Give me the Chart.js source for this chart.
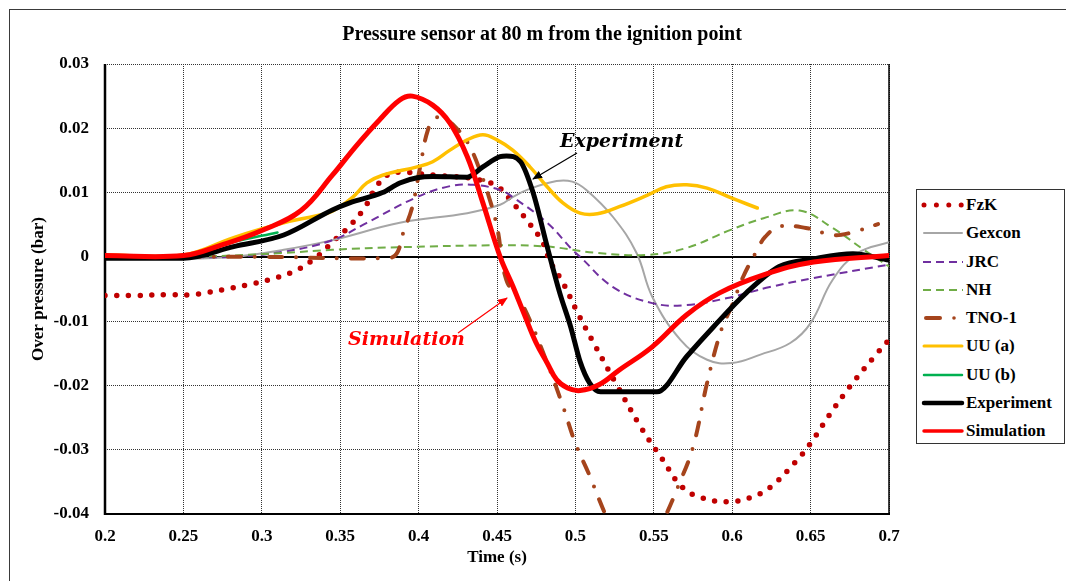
<!DOCTYPE html>
<html>
<head>
<meta charset="utf-8">
<script src="https://cdn.jsdelivr.net/npm/chart.js@4.4.1/dist/chart.umd.min.js"></script>
<style>
html,body{margin:0;padding:0;background:#fff;width:1066px;height:581px;overflow:hidden;}
#wrap{position:relative;width:1066px;height:581px;}
#chart{position:absolute;left:0;top:0;}
#frame{position:absolute;left:9px;top:9px;width:1100px;height:700px;border:1px solid #3a3a3a;box-sizing:border-box;}
#title{position:absolute;left:0;width:1084px;top:21px;text-align:center;font:bold 20px "Liberation Serif";line-height:24px;color:#000;}
#legend{position:absolute;left:916px;top:189px;width:149px;height:255px;border:1px solid #333;box-sizing:border-box;background:#fff;}
.row{position:absolute;left:0;height:20px;width:148px;}
.row svg{position:absolute;left:3px;top:0;}
.row span{position:absolute;left:49px;top:0;font:bold 17px "Liberation Serif";line-height:20px;color:#000;white-space:nowrap;}
.ann{position:absolute;font:italic bold 19px "DejaVu Serif";line-height:24px;white-space:nowrap;}
#arrows{position:absolute;left:0;top:0;pointer-events:none;}
</style>
</head>
<body>
<div id="wrap">
  <div id="frame"></div>
  <canvas id="chart" width="1066" height="581"></canvas>
  <div id="title">Pressure sensor at 80 m from the ignition point</div>
  <div id="legend"></div>
  <div class="ann" style="left:560px;top:128px;color:#000;">Experiment</div>
  <div class="ann" style="left:348px;top:326px;color:#ff0000;">Simulation</div>
  <svg id="arrows" width="1066" height="581">
    <defs>
      <marker id="ahB" markerWidth="10" markerHeight="8" refX="9" refY="4" orient="auto" markerUnits="userSpaceOnUse">
        <path d="M0,0 L10,4 L0,8 z" fill="#000"/>
      </marker>
      <marker id="ahR" markerWidth="10" markerHeight="8" refX="9" refY="4" orient="auto" markerUnits="userSpaceOnUse">
        <path d="M0,0 L10,4 L0,8 z" fill="#ff0000"/>
      </marker>
    </defs>
    <line x1="577" y1="153" x2="533" y2="179" stroke="#000" stroke-width="1.2" marker-end="url(#ahB)"/>
    <line x1="458" y1="333" x2="507" y2="298" stroke="#ff0000" stroke-width="1.2" marker-end="url(#ahR)"/>
  </svg>
</div>
<script>
// ---------- data ----------
const seriesNames = ["FzK", "Gexcon", "JRC", "NH", "TNO-1", "UU (a)", "UU (b)", "Experiment", "Simulation"];

const xTickValues = [0.2, 0.25, 0.3, 0.35, 0.4, 0.45, 0.5, 0.55, 0.6, 0.65, 0.7];
const xTickLabels = ["0.2", "0.25", "0.3", "0.35", "0.4", "0.45", "0.5", "0.55", "0.6", "0.65", "0.7"];
const yTickValues = [-0.04, -0.03, -0.02, -0.01, 0, 0.01, 0.02, 0.03];
const yTickLabels = ["-0.04", "-0.03", "-0.02", "-0.01", "0", "0.01", "0.02", "0.03"];

const fzkT = [0.2, 0.22, 0.24, 0.255, 0.264, 0.278, 0.294, 0.307, 0.322, 0.335, 0.345, 0.356, 0.366, 0.373, 0.38, 0.388, 0.398, 0.41, 0.422, 0.436, 0.45, 0.46, 0.47, 0.479, 0.484, 0.492, 0.502, 0.513, 0.527, 0.542, 0.555, 0.568, 0.581, 0.597, 0.611, 0.624, 0.64, 0.65, 0.662, 0.675, 0.69, 0.7];
const fzkP = [-0.006, -0.006, -0.0059, -0.0059, -0.0056, -0.005, -0.0042, -0.0034, -0.0021, 0, 0.0023, 0.0048, 0.0078, 0.0109, 0.0127, 0.0132, 0.013, 0.0127, 0.0125, 0.0121, 0.011, 0.0084, 0.0054, 0.0023, -0.0008, -0.004, -0.009, -0.014, -0.0202, -0.0266, -0.0313, -0.0358, -0.0375, -0.0381, -0.0375, -0.0359, -0.032, -0.029, -0.0246, -0.0202, -0.0157, -0.0129];

const gexT = [0.2, 0.25, 0.282, 0.314, 0.345, 0.388, 0.431, 0.452, 0.46, 0.47, 0.488, 0.498, 0.507, 0.524, 0.539, 0.549, 0.567, 0.584, 0.6, 0.618, 0.637, 0.65, 0.664, 0.68, 0.7];
const gexP = [-0.0002, -0.0003, 0, 0.0011, 0.0026, 0.0053, 0.0068, 0.0081, 0.0093, 0.0105, 0.0118, 0.0117, 0.0104, 0.0062, 0.0006, -0.0062, -0.0129, -0.016, -0.0165, -0.0152, -0.0134, -0.0103, -0.0036, 0.0006, 0.0023];

const jrcT = [0.2, 0.25, 0.282, 0.314, 0.345, 0.367, 0.399, 0.42, 0.435, 0.452, 0.46, 0.482, 0.498, 0.503, 0.524, 0.549, 0.571, 0.597, 0.624, 0.652, 0.7];
const jrcP = [0, 0, 0, 0.0008, 0.0026, 0.0053, 0.0093, 0.011, 0.0112, 0.0104, 0.0093, 0.0053, 0.0011, 0, -0.0047, -0.0072, -0.0075, -0.0064, -0.0047, -0.0033, -0.0012];

const nhT = [0.2, 0.25, 0.28, 0.314, 0.345, 0.388, 0.452, 0.482, 0.514, 0.546, 0.571, 0.599, 0.62, 0.643, 0.664, 0.684, 0.7];
const nhP = [0, 0, 0.0002, 0.0006, 0.0011, 0.0015, 0.0018, 0.0016, 0.0006, 0.0003, 0.0014, 0.0042, 0.006, 0.0072, 0.0045, 0.0011, -0.0015];

const tnoT = [0.2, 0.3, 0.38, 0.386, 0.39, 0.396, 0.401, 0.406, 0.411, 0.416, 0.425, 0.431, 0.435, 0.439, 0.444, 0.45, 0.456, 0.467, 0.482, 0.492, 0.5, 0.509, 0.519, 0.538, 0.558, 0.565, 0.575, 0.584, 0.593, 0.6, 0.607, 0.616, 0.621, 0.63, 0.647, 0.664, 0.675, 0.693];
const tnoP = [0, 0, -0.0002, 0.0005, 0.0036, 0.0078, 0.014, 0.0198, 0.0216, 0.0216, 0.0198, 0.0179, 0.016, 0.0135, 0.01, 0.0047, -0.0036, -0.0078, -0.0165, -0.0232, -0.029, -0.034, -0.04, -0.05, -0.04, -0.036, -0.0296, -0.0196, -0.0114, -0.0075, -0.0031, 0.0011, 0.0031, 0.0047, 0.0045, 0.0034, 0.0037, 0.0051];

const uuaT = [0.2, 0.25, 0.282, 0.314, 0.335, 0.345, 0.358, 0.367, 0.377, 0.399, 0.409, 0.42, 0.431, 0.441, 0.45, 0.46, 0.471, 0.482, 0.492, 0.503, 0.514, 0.528, 0.546, 0.558, 0.571, 0.584, 0.599, 0.616];
const uuaP = [0.0003, 0.0003, 0.003, 0.0053, 0.0064, 0.0071, 0.0093, 0.0115, 0.0127, 0.014, 0.0148, 0.0166, 0.0182, 0.019, 0.0182, 0.0166, 0.014, 0.0109, 0.0084, 0.0068, 0.0067, 0.0078, 0.0096, 0.0109, 0.0112, 0.0107, 0.0092, 0.0076];

const uubT = [0.2, 0.25, 0.282, 0.31];
const uubP = [0.0001, 0.0001, 0.0023, 0.0038];

const expT = [0.2, 0.25, 0.282, 0.314, 0.345, 0.356, 0.377, 0.388, 0.399, 0.409, 0.431, 0.441, 0.452, 0.456, 0.465, 0.473, 0.482, 0.49, 0.497, 0.503, 0.509, 0.516, 0.535, 0.552, 0.571, 0.588, 0.609, 0.63, 0.652, 0.677, 0.7];
const expP = [-0.0002, -0.0002, 0.0016, 0.0034, 0.0073, 0.0084, 0.01, 0.0115, 0.0123, 0.0125, 0.0124, 0.014, 0.0156, 0.0157, 0.0148, 0.01, 0.0016, -0.0056, -0.0109, -0.0163, -0.0196, -0.021, -0.021, -0.021, -0.0155, -0.0109, -0.0056, -0.0015, -0.0003, 0.0005, -0.0005];

const simT = [0.2, 0.25, 0.275, 0.3, 0.325, 0.345, 0.36, 0.375, 0.388, 0.396, 0.409, 0.42, 0.431, 0.441, 0.452, 0.46, 0.467, 0.475, 0.482, 0.488, 0.495, 0.503, 0.515, 0.528, 0.549, 0.571, 0.592, 0.62, 0.652, 0.7];
const simP = [0.0002, 0.0002, 0.0019, 0.0041, 0.0072, 0.0127, 0.0172, 0.0213, 0.0244, 0.025, 0.0236, 0.0208, 0.0156, 0.0084, 0, -0.0045, -0.0087, -0.0134, -0.0165, -0.0191, -0.0204, -0.0208, -0.0199, -0.0176, -0.014, -0.009, -0.0056, -0.0028, -0.0008, 0.0002];

// ---------- styles ----------
const seriesT = [fzkT, gexT, jrcT, nhT, tnoT, uuaT, uubT, expT, simT];
const seriesP = [fzkP, gexP, jrcP, nhP, tnoP, uuaP, uubP, expP, simP];
const colors = ["#C00000", "#A6A6A6", "#7030A0", "#70AD47", "#A5441C", "#FFC000", "#00B050", "#000000", "#FF0000"];
const widths = [5.5, 2, 2, 2, 4, 3.5, 2.5, 5, 5];
const dashes = [[0, 11.7], [], [8, 5], [8, 5], [13, 14, 0, 14], [], [], [], []];
const caps = ["round", "butt", "butt", "butt", "round", "round", "round", "round", "round"];
const interp = ["default", "default", "default", "default", "default", "default", "default", "monotone", "default"];

const datasets = seriesNames.map((name, i) => ({
  label: name,
  data: seriesT[i].map((t, k) => ({x: t, y: seriesP[i][k]})),
  borderColor: colors[i],
  backgroundColor: colors[i],
  borderWidth: widths[i],
  borderDash: dashes[i],
  borderCapStyle: caps[i],
  borderJoinStyle: "round",
  pointRadius: 0,
  pointHoverRadius: 0,
  fill: false,
  tension: 0.4,
  cubicInterpolationMode: interp[i],
  clip: 0,
  order: seriesNames.length - 1 - i
}));

const framePlugin = {
  id: "frame",
  beforeDatasetsDraw(chart) {
    const {ctx, chartArea: {left, right, top, bottom}, scales: {y}} = chart;
    const y0 = Math.round(y.getPixelForValue(0));
    ctx.save();
    ctx.setLineDash([]);
    ctx.strokeStyle = "#000";
    ctx.lineWidth = 2;
    ctx.beginPath(); ctx.moveTo(left, y0); ctx.lineTo(right, y0); ctx.stroke();
    ctx.lineWidth = 2.5;
    ctx.beginPath(); ctx.moveTo(left, top); ctx.lineTo(left, bottom + 1); ctx.stroke();
    ctx.lineWidth = 2;
    ctx.beginPath(); ctx.moveTo(left - 1, bottom); ctx.lineTo(right + 1, bottom); ctx.stroke();
    ctx.lineWidth = 1.5;
    ctx.beginPath(); ctx.moveTo(right, top); ctx.lineTo(right, bottom); ctx.stroke();
    ctx.restore();
  }
};

const tickFont = {family: "Liberation Serif", size: 17, weight: "bold"};

new Chart(document.getElementById("chart"), {
  type: "line",
  data: {datasets},
  plugins: [framePlugin],
  options: {
    responsive: false,
    devicePixelRatio: 1,
    animation: false,
    events: [],
    layout: {padding: {left: 10, right: 177, top: 64, bottom: 0}},
    plugins: {legend: {display: false}, title: {display: false}, tooltip: {enabled: false}},
    scales: {
      x: {
        type: "linear",
        min: 0.2, max: 0.7,
        afterBuildTicks: s => { s.ticks = xTickValues.map(v => ({value: v})); },
        afterFit: s => { s.height = 67; },
        ticks: {
          font: tickFont, color: "#000", padding: 12, maxRotation: 0, autoSkip: false,
          callback: (v, i) => xTickLabels[i]
        },
        grid: {color: "#333", lineWidth: 1, drawTicks: false},
        border: {display: false, dash: [1, 1]},
        title: {display: true, text: "Time (s)", font: tickFont, color: "#000", padding: {top: 0, bottom: 13}}
      },
      y: {
        type: "linear",
        min: -0.04, max: 0.03,
        afterBuildTicks: s => { s.ticks = yTickValues.map(v => ({value: v})); },
        afterFit: s => { s.width = 95; },
        ticks: {
          font: tickFont, color: "#000", padding: 16, autoSkip: false,
          callback: (v, i) => yTickLabels[i]
        },
        grid: {color: "#333", lineWidth: 1, drawTicks: false},
        border: {display: false, dash: [1, 1]},
        title: {display: true, text: "Over pressure (bar)", font: tickFont, color: "#000", padding: {top: 18, bottom: 0}}
      }
    }
  }
});

// ---------- legend ----------
const legend = document.getElementById("legend");
const ns = "http://www.w3.org/2000/svg";
seriesNames.forEach((name, i) => {
  const row = document.createElement("div");
  row.className = "row";
  row.style.top = (5 + i * 28.25) + "px";
  const svg = document.createElementNS(ns, "svg");
  svg.setAttribute("width", "46");
  svg.setAttribute("height", "20");
  const mk = (tag, attrs) => { const e = document.createElementNS(ns, tag); for (const k in attrs) e.setAttribute(k, attrs[k]); svg.appendChild(e); return e; };
  const c = colors[i];
  if (i === 0) {
    mk("line", {x1: 4, y1: 10, x2: 43, y2: 10, stroke: c, "stroke-width": 5, "stroke-linecap": "round", "stroke-dasharray": "0 12.4"});
  } else if (i === 4) {
    mk("line", {x1: 6, y1: 10, x2: 20, y2: 10, stroke: c, "stroke-width": 4, "stroke-linecap": "round"});
    mk("circle", {cx: 34, cy: 10, r: 1.8, fill: c});
  } else if (i === 2 || i === 3) {
    mk("line", {x1: 3, y1: 10, x2: 43, y2: 10, stroke: c, "stroke-width": 2, "stroke-dasharray": "8 5"});
  } else {
    const w = [0, 2, 0, 0, 0, 3, 2.5, 4.5, 3.5][i];
    mk("line", {x1: 4, y1: 10, x2: 42, y2: 10, stroke: c, "stroke-width": w, "stroke-linecap": "round"});
  }
  row.appendChild(svg);
  const sp = document.createElement("span");
  sp.textContent = name;
  row.appendChild(sp);
  legend.appendChild(row);
});
</script>
</body>
</html>
